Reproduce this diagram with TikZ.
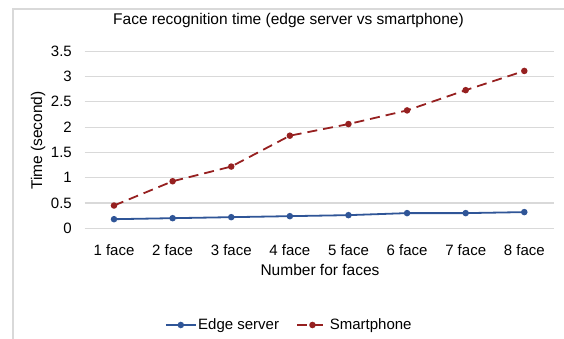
\documentclass[tikz,border=0pt]{standalone}
\usepackage{fontspec}
\setmainfont{Liberation Sans}
\usepackage{pgfplots}
\pgfplotsset{compat=1.18}
\definecolor{edgeblue}{RGB}{47,85,151}
\definecolor{phonered}{RGB}{150,32,32}
\definecolor{gridgray}{RGB}{217,217,217}

\begin{document}
\begin{tikzpicture}[x=1pt, y=1pt,
  txt/.style={font=\fontsize{15}{18}\selectfont, inner sep=0pt},
  series/.style={line width=1.8pt, mark=*, mark size=2.3pt}]
\useasboundingbox (0,0) rectangle (564,-339);
\clip (0,0) rectangle (564,-339);
% chart area frame
\draw[gridgray, line width=1.2pt] (13,-345) -- (13,-9) -- (570,-9);
\begin{axis}[
  at={(84.7pt,-228.3pt)}, anchor=south west,
  scale only axis, width=468.9pt, height=177.1pt,
  xmin=0.5, xmax=8.5, ymin=0, ymax=3.5,
  axis line style={draw=none}, major tick length=0pt,
  ymajorgrids, grid style={gridgray, line width=1.2pt},
  xtick={1,...,8},
  xticklabels={1 face,2 face,3 face,4 face,5 face,6 face,7 face,8 face},
  ytick={0,0.5,...,3.5},
  yticklabels={0,0.5,1,1.5,2,2.5,3,3.5},
  xticklabel style={txt, anchor=north, yshift=-15.7pt},
  yticklabel style={txt, anchor=east, xshift=-12.7pt},
  title={Face recognition time (edge server vs smartphone)},
  title style={txt, font=\fontsize{15.5}{18}\selectfont, at={(axis description cs:0.4346,1.1384)}, anchor=center},
  xlabel={Number for faces},
  xlabel style={txt, font=\fontsize{15.5}{18}\selectfont, at={(axis description cs:0.5018,-0.2355)}, anchor=center},
  ylabel={Time (second)},
  ylabel style={txt, font=\fontsize{15.5}{18}\selectfont, at={(axis description cs:-0.0996,0.4958)}, anchor=center},
  legend columns=2,
  legend style={draw=none, fill=none, font=\fontsize{15}{18}\selectfont,
    at={(axis description cs:0.4357,-0.546)}, anchor=center,
    nodes={inner sep=1.5pt},
    /tikz/every even column/.append style={column sep=16pt}},
  legend image code/.code={
    \draw[mark repeat=2, mark phase=2] plot coordinates {(0pt,0pt) (15pt,0pt) (30pt,0pt)};},
]
\addplot[series, edgeblue] coordinates {
  (1,0.18) (2,0.20) (3,0.22) (4,0.24) (5,0.26) (6,0.30) (7,0.30) (8,0.32)};
\addlegendentry{Edge server}
\addplot[series, phonered, dash pattern=on 10pt off 6pt, mark options={solid}] coordinates {
  (1,0.45) (2,0.93) (3,1.22) (4,1.83) (5,2.06) (6,2.33) (7,2.73) (8,3.11)};
\addlegendentry{Smartphone}
\end{axis}
\end{tikzpicture}
\end{document}
